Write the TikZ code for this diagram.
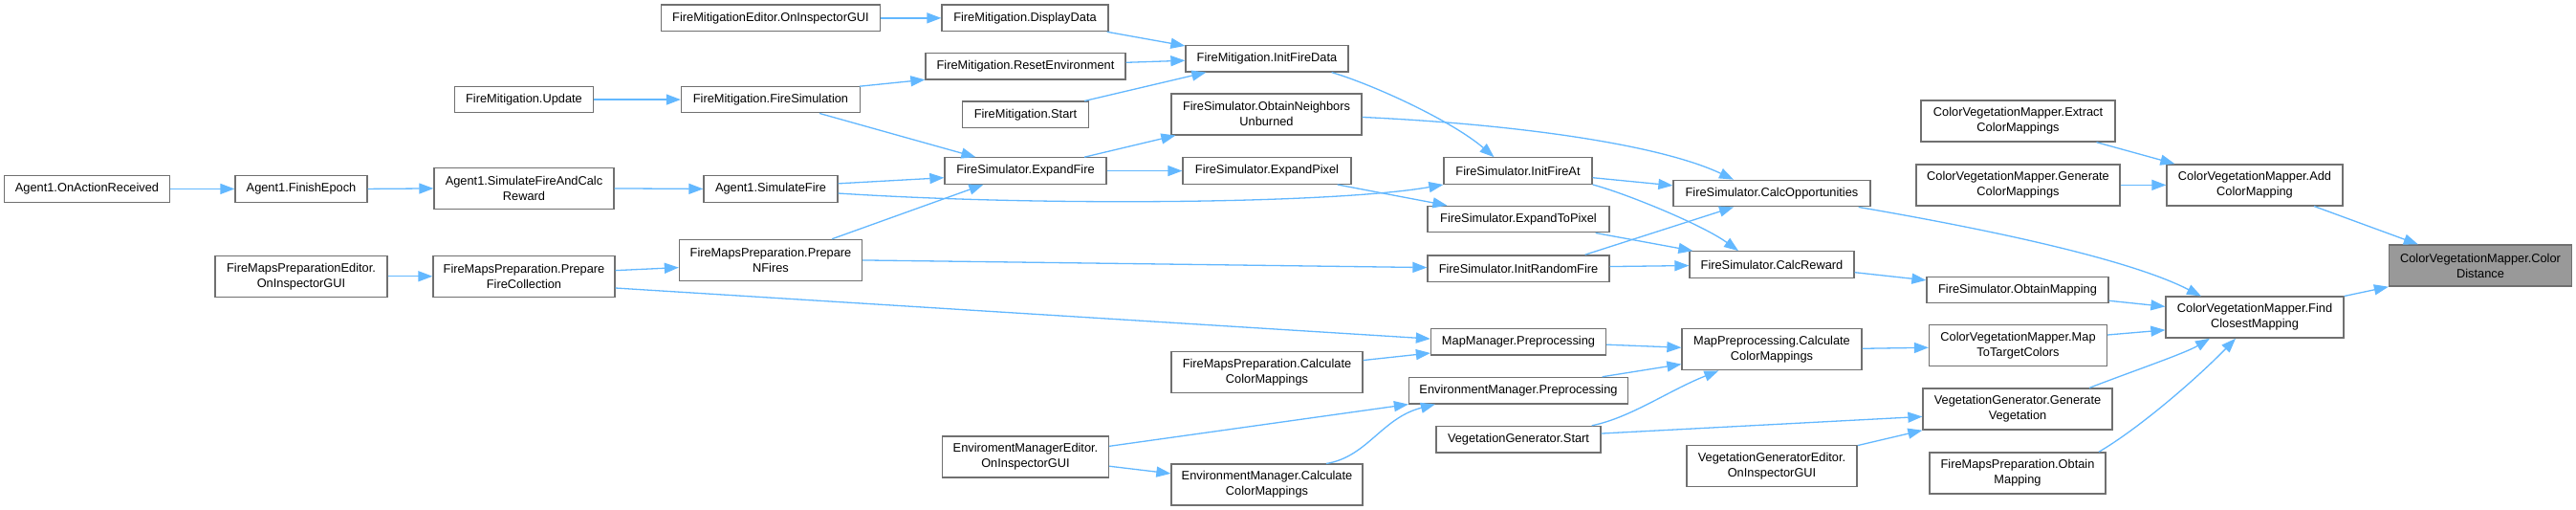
\documentclass[tikz,border=0pt]{standalone}
\usepackage{fontspec}
\setmainfont{Liberation Sans}
\usetikzlibrary{arrows.meta,calc}
\definecolor{edgeblue}{HTML}{63B8FF}
\definecolor{nodeborder}{HTML}{707070}
\definecolor{rootfill}{HTML}{999999}
\tikzset{
  box/.style={draw=nodeborder, line width=1.3pt, fill=white, align=center, inner sep=0pt,
    font=\fontsize{12.8pt}{16pt}\selectfont},
  sone/.style={box, minimum height=27.5pt},
  stwo/.style={box, minimum height=43pt},
  rootbox/.style={stwo, fill=rootfill},
  edge/.style={draw=edgeblue, line width=1.3pt, -{Triangle[length=15pt,width=11pt]}},
}
\begin{document}
\begin{tikzpicture}[x=1pt, y=-1.0204pt]
\useasboundingbox[fill=white] (0,0) rectangle (2694,522.34);
% column 1-3
\node[sone, minimum width=173pt] (n1) at (91,193.5) {Agent1.OnActionReceived};
\node[sone, minimum width=138pt] (n2) at (315,193.5) {Agent1.FinishEpoch};
\node[stwo, minimum width=188pt] (n3) at (548,193) {Agent1.SimulateFireAndCalc\\Reward};
\node[sone, minimum width=145pt] (n4) at (548,102) {FireMitigation.Update};
\node[stwo, minimum width=180pt] (n5) at (315,283) {FireMapsPreparationEditor.\\OnInspectorGUI};
\node[stwo, minimum width=190pt] (n6) at (548,283) {FireMapsPreparation.Prepare\\FireCollection};
% column 4
\node[sone, minimum width=229pt] (n7) at (806,18.5) {FireMitigationEditor.OnInspectorGUI};
\node[sone, minimum width=187pt] (n8) at (806,102) {FireMitigation.FireSimulation};
\node[sone, minimum width=140pt] (n9) at (806,193.5) {Agent1.SimulateFire};
\node[stwo, minimum width=191pt] (n10) at (806,266.5) {FireMapsPreparation.Prepare\\NFires};
% column 5
\node[sone, minimum width=174pt] (n11) at (1072,18.5) {FireMitigation.DisplayData};
\node[sone, minimum width=209pt] (n12) at (1072.5,68) {FireMitigation.ResetEnvironment};
\node[sone, minimum width=132pt] (n13) at (1072.5,117.5) {FireMitigation.Start};
\node[sone, minimum width=169pt] (n14) at (1072.5,175) {FireSimulator.ExpandFire};
\node[stwo, minimum width=174pt] (n16) at (1072.5,468) {EnviromentManagerEditor.\\OnInspectorGUI};
% column 6
\node[sone, minimum width=170pt] (n17) at (1325,60) {FireMitigation.InitFireData};
\node[stwo, minimum width=199pt] (n18) at (1324.5,117) {FireSimulator.ObtainNeighbors\\Unburned};
\node[sone, minimum width=176pt] (n19) at (1325,175) {FireSimulator.ExpandPixel};
\node[stwo, minimum width=200pt] (n15) at (1325,381.5) {FireMapsPreparation.Calculate\\ColorMappings};
\node[stwo, minimum width=200pt] (n20) at (1325,496.5) {EnvironmentManager.Calculate\\ColorMappings};
% column 7
\node[sone, minimum width=155pt] (n21) at (1587.5,175) {FireSimulator.InitFireAt};
\node[sone, minimum width=190pt] (n22) at (1588,224.5) {FireSimulator.ExpandToPixel};
\node[sone, minimum width=190pt] (n23) at (1588,275) {FireSimulator.InitRandomFire};
\node[sone, minimum width=183pt] (n24) at (1588,350) {MapManager.Preprocessing};
\node[sone, minimum width=229pt] (n25) at (1588,400) {EnvironmentManager.Preprocessing};
\node[sone, minimum width=172pt] (n26) at (1588,450) {VegetationGenerator.Start};
% column 8
\node[sone, minimum width=206pt] (n27) at (1853,198) {FireSimulator.CalcOpportunities};
\node[sone, minimum width=172pt] (n28) at (1853,271) {FireSimulator.CalcReward};
\node[stwo, minimum width=188pt] (n29) at (1853,358) {MapPreprocessing.Calculate\\ColorMappings};
\node[stwo, minimum width=178pt] (n30) at (1853,477) {VegetationGeneratorEditor.\\OnInspectorGUI};
% column 9
\node[stwo, minimum width=203pt] (n31) at (2110.5,124) {ColorVegetationMapper.Extract\\ColorMappings};
\node[stwo, minimum width=213pt] (n32) at (2110.5,189.5) {ColorVegetationMapper.Generate\\ColorMappings};
\node[sone, minimum width=190pt] (n33) at (2110,297) {FireSimulator.ObtainMapping};
\node[stwo, minimum width=186pt] (n34) at (2110.5,354) {ColorVegetationMapper.Map\\ToTargetColors};
\node[stwo, minimum width=198pt] (n35) at (2110,419) {VegetationGenerator.Generate\\Vegetation};
\node[stwo, minimum width=184pt] (n36) at (2110,484.5) {FireMapsPreparation.Obtain\\Mapping};
% column 10-11
\node[stwo, minimum width=184pt] (n37) at (2358,189.5) {ColorVegetationMapper.Add\\ColorMapping};
\node[stwo, minimum width=186pt] (n38) at (2358,325) {ColorVegetationMapper.Find\\ClosestMapping};
\node[rootbox, minimum width=191pt] (n39) at (2594,272) {ColorVegetationMapper.Color\\Distance};
% edges
\draw[edge] (n1.east) -- (n2.west);
\draw[edge] (n2.east) -- (n3.west);
\draw[edge] (n3.east) -- (n9.west);
\draw[edge] (n4.east) -- (n8.west);
\draw[edge] (n5.east) -- (n6.west);
\draw[edge] ($(n6.east)+(0,-6)$) -- ($(n10.west)+(0,7.5)$);
\draw[edge] ($(n6.east)+(0,12)$) -- ($(n24.west)+(0,-3)$);
\draw[edge] (n7.east) -- (n11.west);
\draw[edge] ($(n11.south east)+(-2,0)$) -- ($(n17.west)+(0,-13)$);
\draw[edge] ($(n8.north east)+(-1,0.5)$) -- ($(n12.south west)+(0,-0.5)$);
\draw[edge] ($(n12.east)+(0,-4)$) -- ($(n17.west)+(0,2)$);
\draw[edge] ($(n13.north east)+(-5,0)$) -- ($(n17.south west)+(22,0)$);
\draw[edge] ($(n8.south)+(51,0)$) -- ($(n14.north west)+(33,0)$);
\draw[edge] ($(n9.east)+(0,-5.5)$) -- ($(n14.west)+(0,7)$);
\draw[edge] ($(n9.east)+(0,4.5)$) .. controls (1100,212) and (1400,208) .. (n21.south west);
\draw[edge] ($(n10.north)+(64,0)$) -- ($(n14.south west)+(41,0)$);
\draw[edge] (n10.east) -- ($(n23.west)+(0,-1)$);
\draw[edge] ($(n14.north east)+(-23.5,0)$) -- ($(n18.south west)+(5,0)$);
\draw[edge] (n14.east) -- (n19.west);
\draw[edge] ($(n17.south east)+(-18,0)$) .. controls (1440,88) and (1520,125) .. ($(n21.north)+(-25,0)$);
\draw[edge] ($(n18.east)+(0,3)$) .. controls (1600,128) and (1740,150) .. ($(n27.north)+(-40,0)$);
\draw[edge] ($(n19.south east)+(-15,0)$) -- ($(n22.north west)+(21,0)$);
\draw[edge] ($(n21.east)+(0,7)$) -- ($(n27.west)+(0,-8)$);
\draw[edge] (n21.south east) .. controls (1700,198) and (1780,230) .. ($(n28.north)+(-35,0)$);
\draw[edge] ($(n22.south east)+(-15,0)$) -- ($(n28.north west)+(4,0)$);
\draw[edge] ($(n23.north east)+(-26,0)$) -- ($(n27.south)+(-40,0)$);
\draw[edge] ($(n23.east)+(0,-2)$) -- ($(n28.west)+(0,1)$);
\draw[edge] ($(n27.south east)+(-13,0)$) .. controls (2050,230) and (2220,262) .. ($(n38.north)+(-56,0)$);
\draw[edge] ($(n28.east)+(0,8)$) -- ($(n33.west)+(0,-10)$);
\draw[edge] ($(n24.east)+(0,3)$) -- ($(n29.west)+(0,-2)$);
\draw[edge] ($(n15.east)+(0,-12.5)$) -- ($(n24.south west)+(0,-2.5)$);
\draw[edge] ($(n25.north east)+(-27.5,0)$) -- ($(n29.west)+(0,15)$);
\draw[edge] ($(n26.north east)+(-10,0)$) .. controls (1705,428) and (1745,400) .. ($(n29.south west)+(39,0)$);
\draw[edge] ($(n26.east)+(0,-6)$) -- ($(n35.west)+(0,7.7)$);
\draw[edge] ($(n30.north east)+(0,1)$) -- (n35.south west);
\draw[edge] ($(n29.east)+(0,-1)$) -- ($(n34.west)+(0,2)$);
\draw[edge] ($(n16.east)+(0,-11)$) -- (n25.south west);
\draw[edge] ($(n16.east)+(0,9.5)$) -- ($(n20.west)+(0,-11.5)$);
\draw[edge] ($(n20.north)+(62,0)$) .. controls (1430,468) and (1445,428) .. ($(n25.south west)+(28,0)$);
\draw[edge] ($(n31.south)+(82,0)$) -- ($(n37.north west)+(9,0)$);
\draw[edge] (n32.east) -- (n37.west);
\draw[edge] ($(n37.south)+(62,0)$) -- ($(n39.north west)+(31,0)$);
\draw[edge] (n38.north east) -- (n39.south west);
\draw[edge] ($(n33.east)+(0,11)$) -- ($(n38.west)+(0,-11)$);
\draw[edge] ($(n34.east)+(0,-11)$) -- ($(n38.west)+(0,13)$);
\draw[edge] ($(n35.north)+(75,0)$) .. controls (2225,382) and (2285,362) .. ($(n38.south)+(-47,0)$);
\draw[edge] ($(n36.north)+(85,0)$) .. controls (2235,440) and (2295,390) .. ($(n38.south)+(-20,0)$);
\end{tikzpicture}
\end{document}
